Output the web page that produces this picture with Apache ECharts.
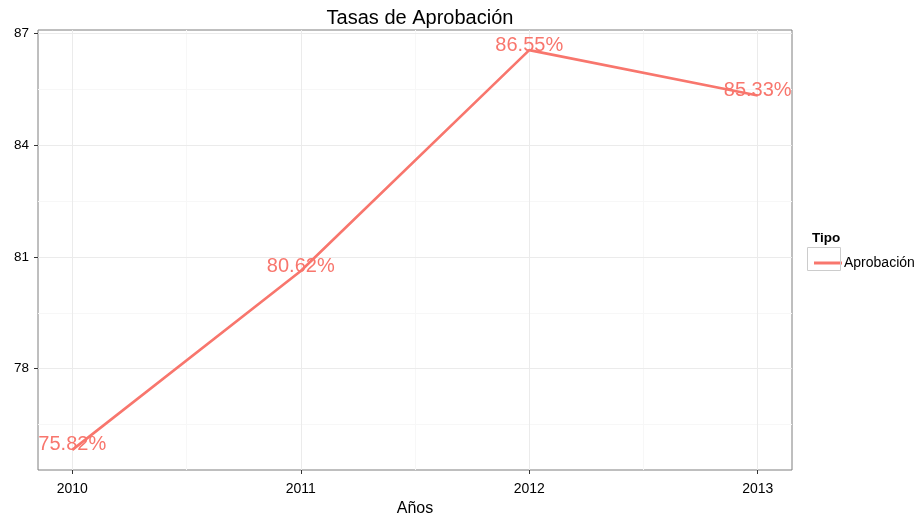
<!DOCTYPE html>
<html><head><meta charset="utf-8">
<script src="https://cdn.jsdelivr.net/npm/echarts@6/dist/echarts.min.js"></script>
<style>html,body{margin:0;padding:0;background:#fff}#c{width:919px;height:518px}</style>
</head><body><div id="c"></div>
<script>
const years = [2010, 2011, 2012, 2013];
const values = [75.82, 80.62, 86.55, 85.33];
const yTicks = [78, 81, 84, 87];
const yMinor = [76.5, 79.5, 82.5, 85.5];
const xMinor = [2010.5, 2011.5, 2012.5];
const seriesName = 'Aprobación';

const font = 'Liberation Sans, Arial, sans-serif';
const chart = echarts.init(document.getElementById('c'));
const gridLines = [];
yMinor.forEach(v => gridLines.push({yAxis: v, lineStyle: {color: '#f7f7f7', width: 1, type: 'solid'}}));
xMinor.forEach(v => gridLines.push({xAxis: v, lineStyle: {color: '#f7f7f7', width: 1, type: 'solid'}}));
yTicks.forEach(v => gridLines.push({yAxis: v, lineStyle: {color: '#ebebeb', width: 1, type: 'solid'}}));
years.forEach(v => gridLines.push({xAxis: v, lineStyle: {color: '#ebebeb', width: 1, type: 'solid'}}));

chart.setOption({
  animation: false,
  title: [
    {text: 'Tasas de Aprobación', left: 415, textAlign: 'center', top: 3,
     textStyle: {fontFamily: font, fontSize: 20, fontWeight: 'normal', color: '#000'}},
    {text: 'Tipo', left: 807, top: 226,
     textStyle: {fontFamily: font, fontSize: 13.5, fontWeight: 'bold', color: '#000'}}
  ],
  grid: {left: 38, right: 127, top: 30, bottom: 48, containLabel: false, outerBoundsMode: 'none',
    show: true, borderColor: '#7f7f7f', borderWidth: 1, backgroundColor: '#fff'},
  xAxis: {
    type: 'value', min: 2009.85, max: 2013.15,
    name: 'Años', nameLocation: 'middle', nameGap: 29,
    nameTextStyle: {fontFamily: font, fontSize: 16, color: '#000'},
    axisLine: {show: false},
    splitLine: {show: false},
    axisTick: {show: true, length: 4, customValues: years, lineStyle: {color: '#333'}},
    axisLabel: {customValues: years, fontFamily: font, fontSize: 14, color: '#000', margin: 12,
      formatter: v => String(Math.round(v))}
  },
  yAxis: {
    type: 'value', min: 75.28, max: 87.09,
    axisLine: {show: false},
    splitLine: {show: false},
    axisTick: {show: true, length: 4, customValues: yTicks, lineStyle: {color: '#333'}},
    axisLabel: {customValues: yTicks, fontFamily: font, fontSize: 13.5, color: '#000', margin: 9,
      formatter: v => String(Math.round(v))}
  },
  legend: {
    data: [seriesName], left: 809, top: 251, icon: 'rect', itemWidth: 28, itemHeight: 3,
    textStyle: {fontFamily: font, fontSize: 14, color: '#000', padding: [0, 0, 0, -3]}
  },
  graphic: [
    {type: 'rect', shape: {x: 807.5, y: 247.5, width: 33, height: 23}, style: {fill: 'none', stroke: '#cccccc', lineWidth: 1}, z: 100}
  ],
  series: [
    {type: 'line', name: '_grid', data: [], silent: true, z: 1,
     markLine: {silent: true, z: 1, symbol: 'none', label: {show: false}, data: gridLines, animation: false}},
    {type: 'line', name: seriesName, z: 5,
     data: years.map((y, i) => [y, values[i]]),
     symbol: 'circle', symbolSize: 0, showSymbol: true,
     lineStyle: {color: '#F8766D', width: 2.6}, itemStyle: {color: '#F8766D'},
     label: {show: true, position: 'inside', offset: [0, -5], fontFamily: font, fontSize: 20, color: '#F8766D',
       formatter: p => p.value[1].toFixed(2) + '%'}}
  ]
});
</script></body></html>
